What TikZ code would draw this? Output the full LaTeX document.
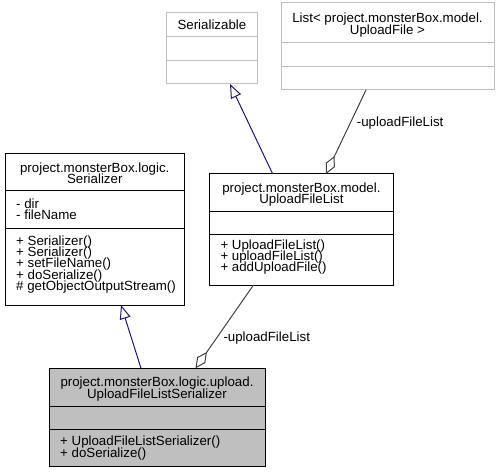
\documentclass[tikz,border=0pt]{standalone}
\usepackage{fontspec}
\setmainfont{Liberation Sans}
\usetikzlibrary{arrows.meta}
\definecolor{boxgray}{HTML}{BFBFBF}
\definecolor{inhblue}{HTML}{191970}
\definecolor{aggray}{HTML}{404040}
\newcommand{\fl}{\rule{0pt}{10pt}}
\lineskiplimit=-100pt
\begin{document}
\begin{tikzpicture}[x=1pt, y=-1pt,
  every node/.style={font=\fontsize{13.3}{11.4}\selectfont},
  cls/.style={draw=black, line width=1pt, fill=white, inner sep=0pt, outer sep=0pt, anchor=north west},
  ext/.style={cls, draw=boxgray},
  sel/.style={cls, fill=boxgray},
  div/.style={line width=1pt, draw=black},
  extdiv/.style={line width=1pt, draw=boxgray},
  ttl/.style={anchor=north, inner sep=0pt, align=center},
  mem/.style={anchor=north west, inner sep=0pt, align=left},
  inh/.style={draw=inhblue, line width=1pt, -{Triangle[length=14pt, width=11pt, fill=white]}},
  agg/.style={draw=aggray, line width=1pt, {Diamond[length=20pt, width=10pt, fill=white]}-},
  lbl/.style={anchor=base west, inner sep=0pt}
]
\useasboundingbox (0,0) rectangle (498,473);

% Serializable
\node[ext, minimum width=90.8pt, minimum height=71.7pt] (sbl) at (166.5,12.3) {};
\draw[extdiv] (sbl.west |- 0,36.3) -- (sbl.east |- 0,36.3);
\draw[extdiv] (sbl.west |- 0,60.7) -- (sbl.east |- 0,60.7);
\node[ttl] (sblt) at (211.9,19) {\fl Serializable};

% List
\node[ext, minimum width=213pt, minimum height=87.5pt] (lst) at (281,2.5) {};
\draw[extdiv] (lst.west |- 0,42.7) -- (lst.east |- 0,42.7);
\draw[extdiv] (lst.west |- 0,66.7) -- (lst.east |- 0,66.7);
\node[ttl] (lstt) at (387.5,12.5) {\fl List< project.monsterBox.model.\\UploadFile >};

% UploadFileList
\node[cls, minimum width=184.2pt, minimum height=111pt] (ufl) at (209.3,174) {};
\draw[div] (ufl.west |- 0,211.5) -- (ufl.east |- 0,211.5);
\draw[div] (ufl.west |- 0,235) -- (ufl.east |- 0,235);
\node[ttl] (uflt) at (301.4,182.4) {\fl project.monsterBox.model.\\UploadFileList};
\node[mem] (uflm) at (220.3,239) {\fl + UploadFileList()\\+ uploadFileList()\\+ addUploadFile()};

% Serializer
\node[cls, minimum width=179.5pt, minimum height=151.5pt] (ser) at (5,153.5) {};
\draw[div] (ser.west |- 0,190.5) -- (ser.east |- 0,190.5);
\draw[div] (ser.west |- 0,228.3) -- (ser.east |- 0,228.3);
\node[ttl] (sert) at (94.75,161.9) {\fl project.monsterBox.logic.\\Serializer};
\node[mem] (sera) at (16,198) {\fl - dir\\- fileName};
\node[mem] (serm) at (16,235) {\fl + Serializer()\\+ Serializer()\\+ setFileName()\\+ doSerialize()\\\# getObjectOutputStream()};

% UploadFileListSerializer
\node[sel, minimum width=216pt, minimum height=97.7pt] (ufls) at (49,368.3) {};
\draw[div] (ufls.west |- 0,406) -- (ufls.east |- 0,406);
\draw[div] (ufls.west |- 0,429.3) -- (ufls.east |- 0,429.3);
\node[ttl] (uflst) at (157,376.7) {\fl project.monsterBox.logic.upload.\\UploadFileListSerializer};
\node[mem] (uflsm) at (60,435.5) {\fl + UploadFileListSerializer()\\+ doSerialize()};

% connectors
\draw[inh] (ufl.north -| 272.7,0) -- (sbl.south -| 230,0);
\draw[agg] (ufl.north -| 326,0) -- (lst.south -| 366,0);
\draw[inh] (ufls.north -| 141,0) -- (ser.south -| 121,0);
\draw[agg] (ufls.north -| 195.5,0) -- (ufl.south -| 253.5,0);

\node[lbl] (l1) at (356.7,127) {-uploadFileList};
\node[lbl] (l2) at (223.3,341) {-uploadFileList};
\end{tikzpicture}
\end{document}
